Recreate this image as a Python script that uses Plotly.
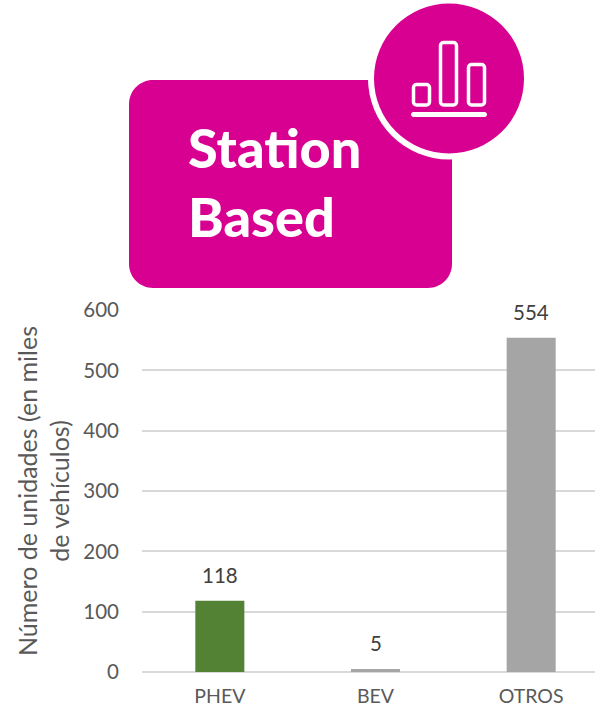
import plotly.graph_objects as go

categories = ["PHEV", "BEV", "OTROS"]
values = [118, 5, 554]
bar_colors = ["#548235", "#A5A5A5", "#A5A5A5"]
tick_values = [0, 100, 200, 300, 400, 500, 600]
y_title = "Número de unidades (en miles<br>de vehículos)"
badge_lines = ["Station", "Based"]

W, H = 595, 714
L, R, T, B = 142, 0, 310, 42
MAGENTA = "#D80091"
TEXT = "#595959"
FONT = "Lato"


def px(x):
    return (x - L) / (W - L - R)


def py(y):
    return 1 - (y - T) / (H - T - B)


def rounded(x0, y0, x1, y1, r):
    k = 0.45 * r
    return (
        f"M{px(x0 + r)},{py(y0)} L{px(x1 - r)},{py(y0)} "
        f"C{px(x1 - k)},{py(y0)} {px(x1)},{py(y0 + k)} {px(x1)},{py(y0 + r)} "
        f"L{px(x1)},{py(y1 - r)} "
        f"C{px(x1)},{py(y1 - k)} {px(x1 - k)},{py(y1)} {px(x1 - r)},{py(y1)} "
        f"L{px(x0 + r)},{py(y1)} "
        f"C{px(x0 + k)},{py(y1)} {px(x0)},{py(y1 - k)} {px(x0)},{py(y1 - r)} "
        f"L{px(x0)},{py(y0 + r)} "
        f"C{px(x0)},{py(y0 + k)} {px(x0 + k)},{py(y0)} {px(x0 + r)},{py(y0)} Z"
    )


def circle(cx, cy, r, color):
    return dict(type="circle", xref="paper", yref="paper",
                x0=px(cx - r), x1=px(cx + r), y0=py(cy + r), y1=py(cy - r),
                fillcolor=color, line_width=0, layer="above")


def outline(x0, y0, x1, y1, r, width, fill="rgba(0,0,0,0)"):
    return dict(type="path", xref="paper", yref="paper",
                path=rounded(x0, y0, x1, y1, r), fillcolor=fill,
                line=dict(color="white", width=width), layer="above")


shapes = [
    dict(type="path", xref="paper", yref="paper", path=rounded(129, 80, 452, 288, 24),
         fillcolor=MAGENTA, line_width=0, layer="above"),
    circle(449, 78.5, 81, "white"),
    circle(449, 78.5, 75, MAGENTA),
    outline(413.5, 84.5, 429.5, 105, 3, 3.5),
    outline(440.5, 42.5, 456.5, 105, 3, 3.5),
    outline(468.5, 64.5, 484.5, 105, 3, 3.5),
    outline(411, 112, 487, 117, 2.5, 0, "white"),
]

annotations = [
    dict(x=c, y=v, xref="x", yref="y", text=str(v), showarrow=False, yanchor="bottom",
         yshift=12, font=dict(family=FONT, size=20.5, color="#404040"))
    for c, v in zip(categories, values)
]
for line, yc in zip(badge_lines, [147, 216]):
    annotations.append(dict(
        x=px(186), y=py(yc), xref="paper", yref="paper", text=line,
        xanchor="left", yanchor="middle", showarrow=False,
        font=dict(family="Lato", weight=900, size=54, color="white")))

fig = go.Figure(go.Bar(x=categories, y=values, marker_color=bar_colors, marker_line_width=0,
                       width=0.315, hoverinfo="x+y"))
fig.update_layout(
    width=W, height=H, autosize=False,
    margin=dict(l=L, r=R, t=T, b=B, pad=0),
    paper_bgcolor="white", plot_bgcolor="white",
    showlegend=False, shapes=shapes, annotations=annotations,
    font=dict(family=FONT, color=TEXT),
)
fig.update_xaxes(range=[-0.5, 2.41], showgrid=False, zeroline=False, showline=False, ticks="",
                 tickfont=dict(family=FONT, size=19.5, color=TEXT), ticklabelstandoff=10)
fig.update_yaxes(range=[0, 600], tickvals=tick_values, showgrid=True, gridcolor="#D9D9D9", gridwidth=2,
                 zeroline=True, zerolinecolor="#D9D9D9", zerolinewidth=2, showline=False, ticks="",
                 tickfont=dict(family=FONT, size=20.5, color=TEXT), ticklabelstandoff=22,
                 title=dict(text=y_title, font=dict(family=FONT, size=25, color=TEXT), standoff=6))
fig.write_html("out.html", config=dict(displayModeBar=False),
               post_script="document.body.style.margin='0';document.body.style.overflow='hidden';")
